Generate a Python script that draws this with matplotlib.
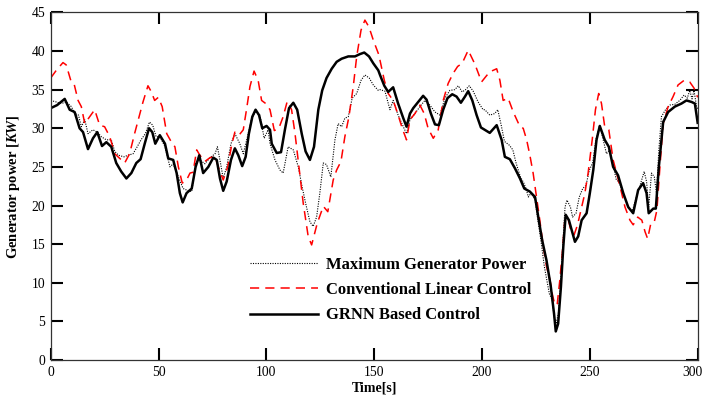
import matplotlib
matplotlib.use("Agg")
import matplotlib.pyplot as plt

plt.rcParams['font.family'] = ['Liberation Serif', 'DejaVu Serif']
plt.rcParams['mathtext.fontset'] = 'custom'
plt.rcParams['mathtext.it'] = 'Liberation Serif:italic:bold'
plt.rcParams['mathtext.rm'] = 'Liberation Serif:bold'

# Maximum Generator Power (dotted)
t_max = [0, 2.6, 4.9, 7.2, 9.6, 11.1, 12.9, 14.2, 15.8, 17.3, 19.6, 21.6, 23.5, 25.8, 28.1, 29.7,
         31.5, 34, 35.8, 38.2, 40.1, 41.9, 43.9, 45.8, 47.3, 48.9, 50.7, 53, 55.3, 56.8, 59.2,
         61.4, 63, 65.4, 67.2, 69.2, 71.5, 73.9, 76.2, 77.3, 78.8, 80, 81.6, 83.6, 85.4, 87.7,
         89.3, 90.9, 93.2, 95, 97, 99, 100.8, 101.7, 104, 106.3, 107.8, 110.1, 112.5, 114.8,
         116.6, 118.2, 120.2, 121.7, 123.3, 124.8, 126.4, 127.9, 129.9, 131.8, 133.3, 134.9,
         136.4, 138, 139.8, 141.9, 143.9, 145.7, 147.7, 149.6, 151.9, 152.7, 155, 157.3, 158.8,
         161.1, 163.5, 165, 166.6, 168.9, 171.2, 173.5, 175.8, 178.2, 180.5, 182.8, 185.1,
         187.4, 189, 190.8, 192.4, 194.1, 195.9, 198.2, 200.5, 201.3, 203.6, 205.9, 207.3,
         208.9, 210.4, 212.7, 214.3, 215.8, 217.8, 219.4, 220.4, 221.5, 222.7, 224.6, 225.8,
         227.4, 228.9, 230.2, 231.2, 232.5, 233.5, 234.3, 235.4, 236.3, 237.4, 238.5, 239.4,
         241, 242, 243.6, 245.1, 246.7, 248.2, 249.8, 251.3, 252.8, 254.6, 256.2, 257.7, 259.2,
         260.8, 262.3, 263.4, 265.5, 267.8, 269.6, 271.6, 273.6, 275.2, 276.3, 277.3, 278.6,
         279.9, 280.9, 282, 283.2, 285.1, 287.1, 289.4, 291.7, 293.7, 295.2, 296.3, 297.4,
         298.3, 299.5, 300]
p_max = [33.6, 33.4, 33.2, 33.4, 32.8, 31.9, 31.7, 30.2, 31.1, 29.3, 29.8, 29.5, 28.9, 28.5, 28.5, 27.0,
         26.5, 26.3, 26.5, 26.7, 27.6, 28.5, 29.3, 30.8, 30.4, 28.9, 28.9, 27.6, 25.0, 25.4, 23.7,
         22.2, 22.0, 21.8, 25.5, 25.9, 25.4, 26.2, 26.7, 27.6, 25.4, 23.5, 25.0, 28.0, 29.3, 28.0,
         26.7, 28.5, 31.3, 32.1, 31.7, 28.7, 29.8, 28.0, 25.9, 24.6, 24.2, 27.6, 27.2, 25.0,
         22.4, 20.3, 17.9, 17.3, 18.5, 21.6, 25.5, 25.3, 23.7, 28.5, 30.6, 30.2,
         31.3, 31.5, 33.9, 34.5, 36.2, 36.9, 36.5, 35.6, 34.9, 35.0, 34.8, 32.4, 33.6,
         31.7, 30.2, 29.3, 31.1, 31.9, 32.8, 33.6, 33.0, 32.1, 31.7, 33.9, 34.9,
         35.0, 35.5, 34.7, 35.0, 35.5, 34.8, 33.4, 32.4, 32.4, 31.7, 31.9, 32.4,
         30.4, 28.3, 27.8, 27.2, 25.5, 23.7, 22.9, 22.2, 21.1, 21.6, 20.7, 18.3,
         15.3, 12.1, 10.1, 8.6, 7.8, 5.6, 4.7, 6.0, 9.5, 14.7, 19.8, 20.7,
         19.8, 18.5, 19.0, 21.1, 22.2, 22.6, 24.6, 25.5, 28.5, 30.4, 28.5, 26.7, 27.2,
         25.2, 23.3, 23.1, 21.6, 19.8, 19.2, 21.1, 22.9, 24.4, 23.1, 19.8, 24.2,
         23.7, 21.6, 27.2, 31.5, 32.4, 33.0, 33.1, 33.6, 34.3, 33.9, 34.9, 33.8,
         34.9, 32.8, 32.5]

# Conventional Linear Control (dashed red)
t_lin = [0, 2.6, 5.7, 7.2, 9.3, 10.8, 12.7, 14.2, 15.8, 18.1, 20.4, 22.7, 25, 27.4, 29.7, 32,
         34.3, 36.6, 38.9, 40.8, 42.8, 45.1, 46.7, 48.2, 49.9, 51.7, 53.8, 55.8, 57.6, 59.2,
         61, 63, 64.6, 66, 67.7, 69.2, 71.5, 73.9, 76.2, 78.2, 80, 82.1, 83.9, 85.4, 87.3,
         89.3, 90.9, 92.4, 94.3, 96.2, 97.8, 99.7, 101.7, 103.7, 105.8, 107.8, 109.7, 111.7,
         113.3, 115.1, 117.1, 118.7, 119.4, 121, 123.6, 126.4, 128.5, 131, 132.6, 134.6, 136.4,
         138.3, 140.3, 141.9, 143.9, 145.7, 147.6, 149.6, 151.9, 152.7, 154.7, 156.5, 158.8,
         160.9, 163, 165, 166.6, 168.9, 171.2, 173.2, 175, 177.4, 179.7, 182, 184.3, 186.6,
         188.7, 190.8, 193.6, 196.7, 199.8, 201.8, 203.6, 206.8, 208.3, 209.8, 212.1, 214.5,
         217.6, 219.1, 220.7, 222.2, 223.7, 225.3, 226.8, 228.4, 229.9, 231.5, 232.7, 233.8,
         234.9, 236.1, 237.2, 238.4, 239.7, 241.2, 242.7, 244.3, 246.2, 247.7, 249.2, 251.1,
         252.6, 254.1, 255.4, 256.9, 258.8, 260.8, 262.4, 264.4, 266.3, 268.6, 270.1, 272.2,
         274.1, 275.6, 276.8, 278.3, 279.9, 281.1, 282.5, 284, 286.3, 288.6, 290.9, 293.7,
         296.3, 298.3, 300]
p_lin = [36.5, 37.5, 38.5, 38.2, 36.2, 35.8, 33.6, 32.8, 30.6, 31.5, 32.4, 30.4, 30.2, 28.9, 26.7, 26.1,
         25.5, 26.7, 29.3, 31.3, 33.4, 35.5, 34.7, 33.6, 34.0, 32.8, 29.3, 28.3, 27.6, 25.0,
         22.9, 23.3, 24.2, 24.3, 27.2, 26.5, 25.7, 26.2, 26.3, 24.6, 23.3, 25.0, 27.8, 29.5, 29.1,
         29.8, 32.6, 35.4, 37.4, 36.2, 33.6, 33.2, 32.4, 29.7, 30.0, 31.5, 33.5, 32.4,
         29.3, 25.0, 20.3, 17.3, 16.0, 14.9, 17.7, 19.9, 19.2, 23.3, 24.6, 25.7, 28.9,
         31.5, 35.4, 39.3, 42.7, 44.0, 43.1, 41.4, 39.7, 38.8, 36.2, 34.5, 33.6,
         31.9, 30.0, 28.5, 31.1, 31.9, 33.0, 31.9, 30.0, 28.7, 29.8, 33.6, 35.8, 37.1,
         38.0, 38.4, 40.1, 38.3, 36.0, 36.7, 37.3, 37.7, 36.2, 33.6, 33.9, 32.1,
         30.2, 30.0, 28.5, 26.5, 24.2, 21.1, 18.1, 14.7, 12.1, 10.4, 8.4, 7.1,
         7.3, 10.4, 13.8, 18.1, 18.5, 16.8, 16.2, 17.5, 19.8, 21.6, 24.2, 28.5,
         32.4, 34.5, 33.2, 30.2, 29.8, 25.9, 24.2, 22.0, 19.8, 18.1, 17.5, 18.5,
         18.1, 16.6, 15.7, 17.7, 17.9, 19.4, 25.0, 30.6, 32.8, 34.1, 35.6, 36.2,
         36.0, 35.2, 34.0]

# GRNN Based Control (solid)
t_grnn = [0, 3, 6.5, 8.8, 11.1, 13.4, 15, 17.3, 19.6, 21.6, 23.8, 25.8, 28.1, 30.4, 32.7, 35.1,
          37.4, 39.7, 41.7, 43.6, 45.6, 47.1, 48.5, 50.6, 53, 54.5, 56.8, 58.4, 59.9, 61.2,
          63, 65.4, 67.2, 68.9, 70.7, 73.1, 75.4, 77, 78.5, 80, 81.6, 83.6, 85.4, 87, 88.8,
          90.4, 91.9, 93.5, 95, 96.6, 98.1, 100.1, 101.7, 102.5, 104.8, 106.8, 108.6, 110.5,
          112.5, 114.3, 116.4, 118.2, 120.2, 122.1, 124.1, 125.9, 127.9, 130.3, 132.6, 134.9,
          138, 141.1, 143.4, 145.4, 147.6, 149.6, 151.9, 152.7, 154.7, 156.5, 158.8, 161.1,
          163.5, 165, 166.6, 168.1, 170.4, 172.7, 174.3, 176.3, 178.2, 180, 182, 184, 186.2,
          188.2, 190.2, 192.1, 193.6, 195.5, 197.5, 199.5, 201.3, 203.6, 206.8, 209.1, 210.6,
          212.9, 215.3, 217.6, 219.6, 222.2, 224.6, 226.1, 227.9, 229.9, 231.9, 233.4, 234.2,
          235.3, 236.6, 237.7, 238.8, 240.3, 241.8, 243.1, 244.6, 246.2, 248.5, 250, 251.6,
          253.1, 254.6, 256.9, 258.8, 260.8, 263.1, 265.5, 267.8, 270.1, 272.4, 274.7, 276.3,
          277.3, 279.4, 280.6, 282, 284, 286.3, 289.4, 292.5, 294.8, 297.2, 298.7, 300]
p_grnn = [32.6, 33.0, 33.8, 32.4, 32.1, 30.0, 29.5, 27.3, 28.7, 29.5, 27.7, 28.2, 27.6, 25.5, 24.4, 23.5,
          24.2, 25.5, 26.0, 28.0, 30.0, 29.5, 28.0, 29.1, 28.0, 26.1, 25.9, 24.2, 21.6, 20.4,
          21.6, 22.2, 25.0, 26.5, 24.2, 25.0, 26.2, 25.9, 23.5, 21.9, 23.1, 25.9, 27.4, 26.5, 25.1,
          26.3, 29.3, 31.5, 32.4, 31.7, 30.0, 30.3, 29.8, 28.0, 26.8, 26.9, 29.8, 32.6,
          33.3, 32.4, 29.3, 27.0, 25.9, 27.6, 32.4, 34.9, 36.5, 37.7, 38.6, 39.0,
          39.3, 39.3, 39.6, 39.8, 39.3, 38.4, 37.5, 36.9, 35.5, 34.7, 35.3, 33.2,
          31.3, 30.2, 31.9, 32.6, 33.4, 34.2, 33.7, 31.9, 30.5, 30.4, 32.4, 33.9, 34.4,
          34.1, 33.3, 34.1, 34.8, 33.6, 31.7, 30.1, 29.8, 29.4, 30.4, 28.5, 26.3,
          26.0, 24.8, 23.5, 22.2, 21.8, 21.1, 18.5, 15.5, 12.9, 9.5, 6.0, 3.7,
          4.7, 9.5, 14.7, 18.8, 18.1, 16.6, 15.3, 16.0, 18.1, 19.0, 21.6, 24.6,
          28.5, 30.3, 28.5, 27.6, 25.0, 23.9, 21.6, 19.8, 19.0, 22.0, 22.9, 21.6,
          19.0, 19.6, 19.6, 25.0, 30.8, 32.1, 32.8, 33.2, 33.6, 33.4, 33.2, 30.7]

labels = ['Maximum Generator Power', 'Conventional Linear Control', 'GRNN Based Control']
x_ticks = [0, 50, 100, 150, 200, 250, 300]
x_tick_labels = ['0', '50', '100', '150', '200', '250', '300']
y_ticks = [0, 5, 10, 15, 20, 25, 30, 35, 40, 45]

fig = plt.figure(figsize=(7.05, 3.99), dpi=100)
ax = fig.add_axes([0.0719, 0.0977, 0.9177, 0.8713])

ax.plot(t_max, p_max, color='black', linestyle=(0, (1, 1.2)), linewidth=0.8, label=labels[0])
ax.plot(t_lin, p_lin, color='#ff0000', linestyle=(0, (6, 4)), linewidth=1.1, label=labels[1])
ax.plot(t_grnn, p_grnn, color='black', linestyle='-', linewidth=1.8, label=labels[2])

ax.set_xlim(0, 300)
ax.set_ylim(0, 45)
ax.set_xticks(x_ticks)
# last label drawn separately (nudged left so it stays inside the figure)
ax.set_xticklabels(x_tick_labels[:-1] + [''])
ax.set_yticks(y_ticks)
ax.tick_params(direction='in', length=8.5, width=1.5, top=True, right=True,
               labelsize=9.8, pad=4, colors='black')
for s in ax.spines.values():
    s.set_linewidth(0.9)
    s.set_color('#333333')

ax.annotate(x_tick_labels[-1], xy=(x_ticks[-1], 0), xycoords=('data', 'axes fraction'),
            xytext=(-4, -4), textcoords='offset points', ha='center', va='top', fontsize=9.8)

ax.set_xlabel('Time[s]', fontsize=10, fontweight='bold', labelpad=2)
ax.set_ylabel(r'Generator power [$\mathit{KW}$]', fontsize=10.5, fontweight='bold', labelpad=7)

leg = ax.legend(loc='upper left', bbox_to_anchor=(0.308, 0.296), frameon=False,
                prop={'family': 'Liberation Serif', 'weight': 'bold', 'size': 12},
                handlelength=4.1, handletextpad=0.45, labelspacing=0.55, borderpad=0, borderaxespad=0)

fig.savefig('out.png', dpi=100)
